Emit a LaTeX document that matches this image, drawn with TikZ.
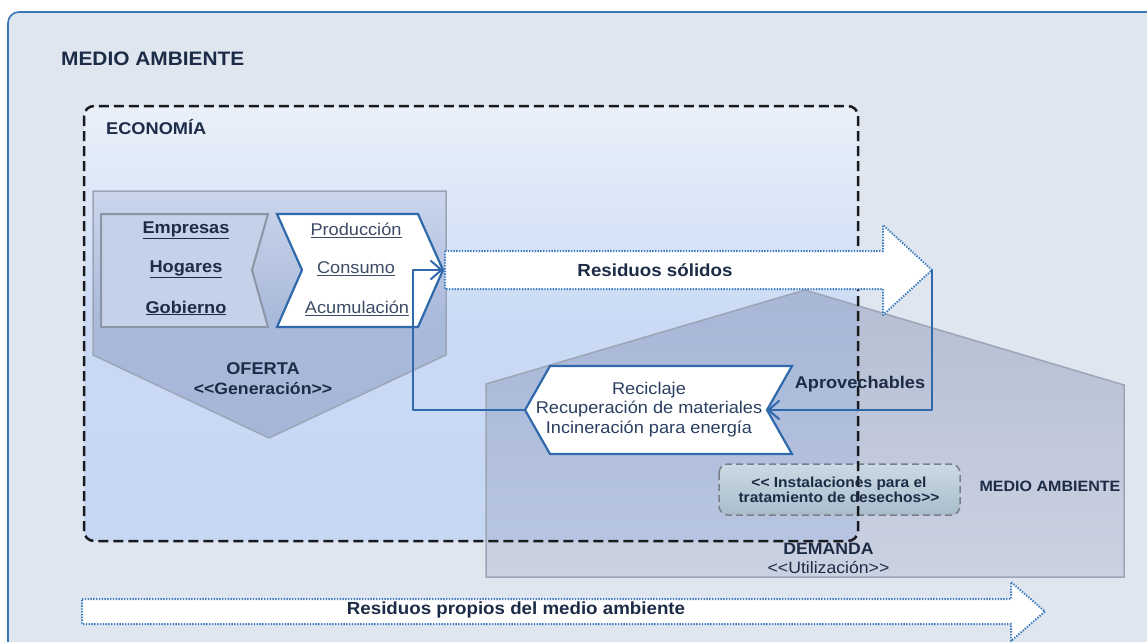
\documentclass[tikz,border=0pt]{standalone}
\usepackage{fontspec}
\setmainfont{Liberation Sans}[FakeStretch=1.07]
\usepackage{xcolor}
\usetikzlibrary{arrows.meta,calc}
\definecolor{fondoambiente}{HTML}{DFE6F0}
\definecolor{bordeambiente}{HTML}{3A76B6}
\definecolor{lineaazul}{HTML}{2F69AB}
\definecolor{puntos}{HTML}{3F7DC0}
\definecolor{textoazul}{HTML}{1D2C46}
\definecolor{textogris}{HTML}{3C4C66}
\definecolor{bordegris}{HTML}{9CA5B6}
\tikzset{
  rotulo/.style={color=textoazul,font=\fontsize{17}{19.5}\selectfont\bfseries,align=center},
  rotulofino/.style={color=textogris,font=\fontsize{17}{19.5}\selectfont,align=center},
  flecharesiduo/.style={draw=puntos,line width=2pt,line cap=butt,dash pattern=on 1.4pt off 1.4pt,fill=white},
  cuadroazul/.style={draw=lineaazul,line width=2.2pt,fill=white},
  flujo/.style={draw=lineaazul,line width=2pt,line cap=butt,-{Straight Barb[length=11pt,width=19pt,line width=2pt]}},
}
\begin{document}
\begin{tikzpicture}[line cap=round,line join=round,x=1pt,y=-1pt]
\useasboundingbox (0,0) rectangle (1147,641);
\clip (0,0) rectangle (1147,641);
\draw [line width=1.6pt,draw=bordeambiente,fill=fondoambiente,rounded corners=11pt] (8,12) rectangle (1170,670);
\draw[color=textoazul] (61,59) node[anchor=west,inner sep=0pt,font=\fontsize{19.5}{22}\selectfont\bfseries] (medioambiente) {MEDIO AMBIENTE};
\shade [top color={rgb,255:red,234;green,240;blue,250},bottom color={rgb,255:red,198;green,215;blue,244},middle color={rgb,255:red,202;green,218;blue,245},rounded corners=10pt] (84,106) rectangle (858,541);
\draw[color=textoazul] (106,127) node[anchor=west,inner sep=0pt,font=\fontsize{17}{20}\selectfont\bfseries] (economia) {ECONOMÍA};
\shadedraw [draw=bordegris,line width=1.5pt,line join=miter,top color={rgb,255:red,203;green,214;blue,237},bottom color={rgb,255:red,166;green,182;blue,216},middle color={rgb,255:red,170;green,186;blue,218}] (93,191) -- (446,191) -- (446,355) -- (269,438) -- (93,355) -- cycle;
\shadedraw [draw=bordegris,line width=1.5pt,line join=miter,fill opacity=0.32,top color={rgb,255:red,94;green,106;blue,150},bottom color={rgb,255:red,160;green,168;blue,196}] (486,577) -- (486,384) -- (805,290) -- (1124,385) -- (1124,577) -- cycle;
\draw[color=textoazul] (860,384) node[rotulo] (aprovechables) {Aprovechables};
\shadedraw [draw={rgb,255:red,120;green,127;blue,136},line width=1.5pt,line cap=butt,dash pattern=on 7pt off 4pt,rounded corners=9pt,top color={rgb,255:red,203;green,218;blue,228},bottom color={rgb,255:red,168;green,189;blue,203}] (719,464) rectangle (960,515);
\draw [line width=2.5pt,line cap=butt,draw={rgb,255:red,26;green,26;blue,30},dash pattern=on 10pt off 5pt,rounded corners=10pt] (84,106) rectangle (858,541);
\draw [flecharesiduo] (445,251) -- (883,251) -- (883,225) -- (932,270) -- (883,315) -- (883,289) -- (445,289) -- cycle;
\draw [flecharesiduo] (82,599) -- (1011,599) -- (1011,582) -- (1045,611.5) -- (1011,641) -- (1011,624) -- (82,624) -- cycle;
\draw [line width=2pt,line join=miter,draw={rgb,255:red,140;green,149;blue,164},fill={rgb,255:red,197;green,209;blue,233}] (101,214) -- (268,214) -- (252,270) -- (268,327) -- (101,327) -- cycle;
\draw [cuadroazul,line join=miter] (277,214) -- (418,214) -- (443,270) -- (418,327) -- (277,327) -- (302,270) -- cycle;
\draw [cuadroazul,line join=miter] (525,410) -- (550,366) -- (792,366) -- (767,410) -- (792,454) -- (550,454) -- cycle;
\coordinate (puntasolidos) at (932,270);
\coordinate (muescareciclaje) at (767,410);
\coordinate (puntareciclaje) at (525,410);
\coordinate (retorno) at (413,270);
\coordinate (puntaproduccion) at (443,270);
\draw [flujo] (puntasolidos) |- (muescareciclaje);
\draw [flujo] (puntareciclaje) -| (retorno) -- (puntaproduccion);
\draw[color=textoazul] (186,230) node[rotulo] (empresas) {\underline{Empresas}};
\draw[color=textoazul] (186,269) node[rotulo] (hogares) {\underline{Hogares}};
\draw[color=textoazul] (186,308) node[rotulo] (gobierno) {\underline{Gobierno}};
\draw[color=textogris] (356,230) node[rotulofino] (produccion) {\underline{Producción}};
\draw[color=textogris] (356,269) node[rotulofino] (consumo) {\underline{Consumo}};
\draw[color=textogris] (357,308) node[rotulofino] (acumulacion) {\underline{Acumulación}};
\draw[color=textoazul] (263,378.5) node[rotulo] (oferta) {OFERTA\\{\normalfont\bfseries\fontsize{16.5}{19}\selectfont <{}<Generación>{}>}};
\draw[color=textoazul] (655,270) node[rotulo,font=\fontsize{17.5}{20}\selectfont\bfseries] (solidos) {Residuos sólidos};
\draw[color=textogris] (649,409.5) node[rotulofino,color={rgb,255:red,42;green,63;blue,96}] (reciclaje) {Reciclaje\\Recuperación de materiales\\Incineración para energía};
\draw[color=textoazul] (839,489.5) node[rotulo,font=\fontsize{14.5}{15}\selectfont\bfseries] (instalaciones) {<{}< Instalaciones para el\\tratamiento de desechos>{}>};
\draw[color=textoazul] (1050,486) node[rotulo,font=\fontsize{15}{17}\selectfont\bfseries] (medioambientedos) {MEDIO AMBIENTE};
\draw[color=textoazul] (828.5,558.5) node[rotulo,font=\fontsize{16.5}{19}\selectfont] (demanda) {{\bfseries DEMANDA}\\<{}<Utilización>{}>};
\draw[color=textoazul] (516,610) node[rotulo,font=\fontsize{17.5}{20}\selectfont\bfseries] (propios) {Residuos propios del medio ambiente};
\end{tikzpicture}
\end{document}
